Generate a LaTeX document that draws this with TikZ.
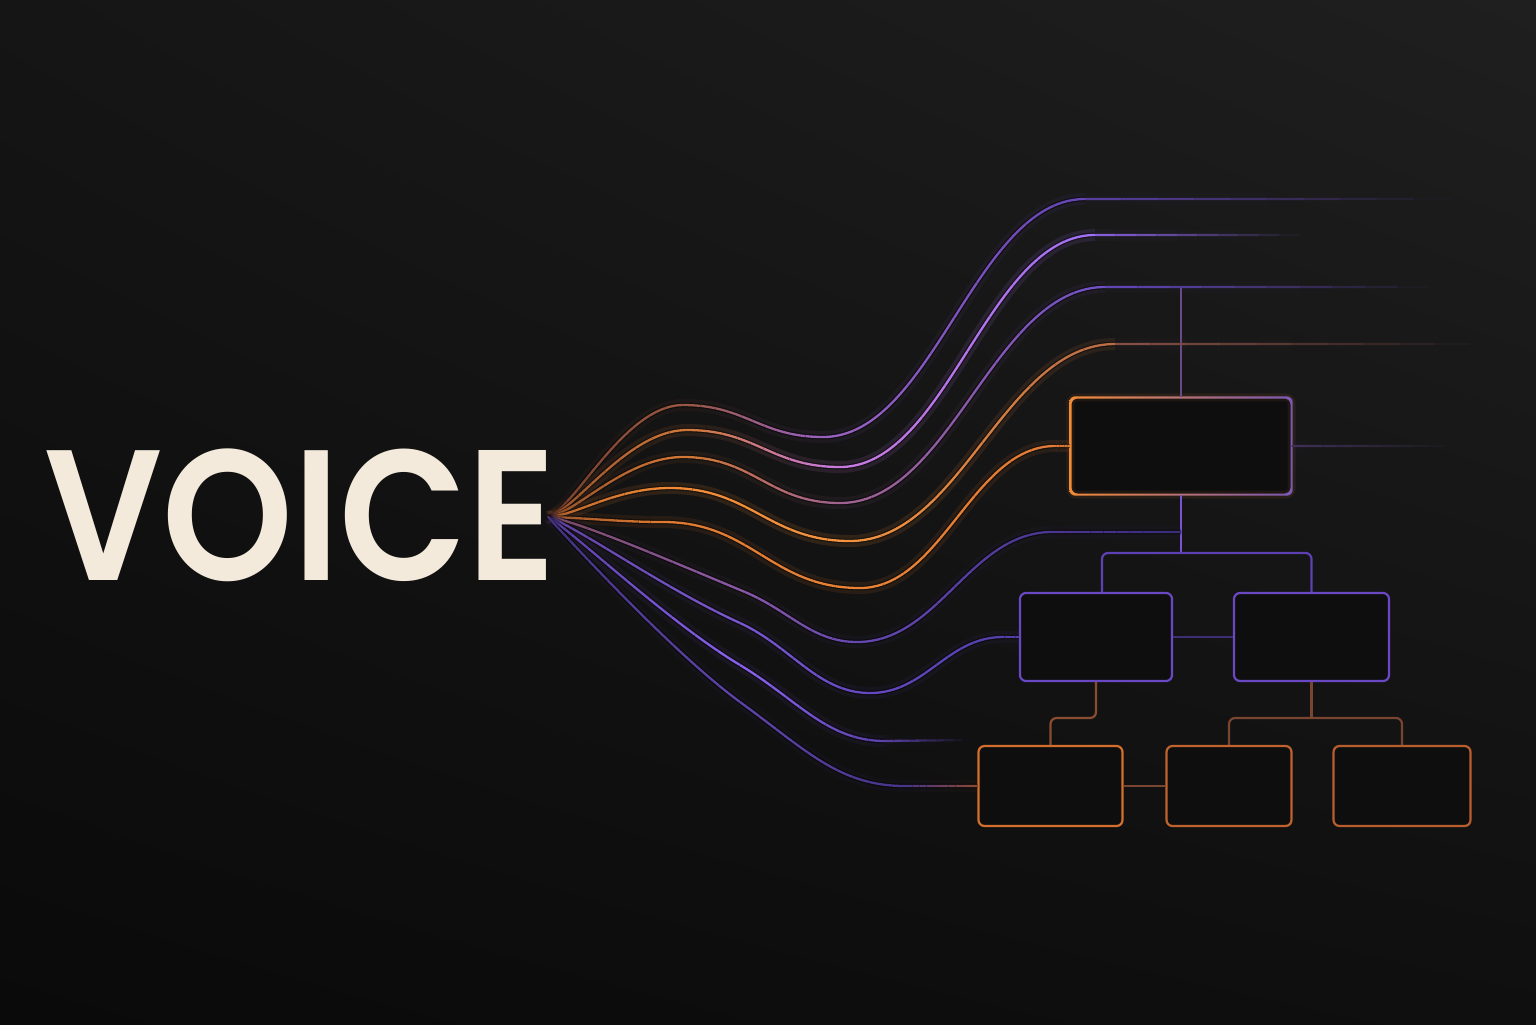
\documentclass[tikz,border=0pt]{standalone}
\usepackage{fontspec}
\newfontfamily\voicefont{Poppins SemiBold}
\usetikzlibrary{calc,shadings}

\definecolor{bgTL}{HTML}{151515}
\definecolor{bgTR}{HTML}{1F1F1F}
\definecolor{bgBL}{HTML}{0A0A0A}
\definecolor{bgBR}{HTML}{0F0F0F}
\definecolor{fadeT}{HTML}{1A1A1A}
\definecolor{fadeM}{HTML}{151515}
\definecolor{fadeL}{HTML}{0F0F0F}
\definecolor{cream}{HTML}{F3EADC}
\definecolor{boxfill}{HTML}{0E0E0F}
\definecolor{purBox}{HTML}{6A48C4}
\definecolor{bOrange}{HTML}{F28A36}
\definecolor{bRight}{HTML}{7C58B4}
\definecolor{lOne}{HTML}{D46E2C}
\definecolor{lTwo}{HTML}{C0622C}
\definecolor{lThree}{HTML}{B85E2E}
\definecolor{cTop}{HTML}{6A4A86}
\definecolor{cMid}{HTML}{7A52D4}
\definecolor{cBar}{HTML}{5C40B4}
\definecolor{cMM}{HTML}{3E2E74}
\definecolor{cBr}{HTML}{8A4C30}
\definecolor{cBrB}{HTML}{7A4530}
\definecolor{cEast}{HTML}{40305A}
% curve colours
\definecolor{kOneA}{HTML}{6E3A2A}\definecolor{kOneB}{HTML}{9A5842}\definecolor{kOneC}{HTML}{9A62C0}\definecolor{kOneD}{HTML}{6446B8}\definecolor{kOneE}{HTML}{5A40A4}
\definecolor{kTwoA}{HTML}{8A4A2C}\definecolor{kTwoB}{HTML}{D07838}\definecolor{kTwoC}{HTML}{C87AE0}\definecolor{kTwoD}{HTML}{A070F4}\definecolor{kTwoE}{HTML}{8A62E0}
\definecolor{kThrA}{HTML}{8A4A2C}\definecolor{kThrB}{HTML}{D27835}\definecolor{kThrC}{HTML}{A0628E}\definecolor{kThrD}{HTML}{7050C8}\definecolor{kThrE}{HTML}{6448BC}
\definecolor{kFouA}{HTML}{B0602C}\definecolor{kFouB}{HTML}{F08A35}\definecolor{kFouC}{HTML}{F39340}\definecolor{kFouD}{HTML}{B86C45}\definecolor{kFouE}{HTML}{8A5048}
\definecolor{kFivA}{HTML}{9A552C}\definecolor{kFivB}{HTML}{E07A30}\definecolor{kFivC}{HTML}{E88235}\definecolor{kFivD}{HTML}{E07A35}
\definecolor{kSixA}{HTML}{7A4A58}\definecolor{kSixB}{HTML}{8A58A8}\definecolor{kSixC}{HTML}{6448B0}\definecolor{kSixD}{HTML}{4A3590}\definecolor{kSixE}{HTML}{3A2C78}
\definecolor{kSevA}{HTML}{5E4098}\definecolor{kSevB}{HTML}{7A58D0}\definecolor{kSevC}{HTML}{6448C0}\definecolor{kSevD}{HTML}{5440A8}
\definecolor{kEigA}{HTML}{503890}\definecolor{kEigB}{HTML}{8A62F0}\definecolor{kEigC}{HTML}{5A40A8}
\definecolor{kNinA}{HTML}{40307A}\definecolor{kNinB}{HTML}{5E44A8}\definecolor{kNinC}{HTML}{48348A}\definecolor{kNinD}{HTML}{8A4A30}

\def\ptxy(#1,#2){\pgfpointxy{#1}{#2}}
\def\srcpt{\pgfpointanchor{src}{center}}
\def\glowop{0.09}
\def\darkop{0.45}
\def\gloww{6pt}
\def\darkw{2.4pt}
\def\corew{1.15pt}
% gradient stroked Bezier segment: colours #1 -> #2, points #3 #4 #5 #6
\newcommand\gseg[6]{%
  \foreach \k in {0,...,9}{%
    \pgfmathsetmacro\ta{\k/10}%
    \pgfmathsetmacro\tb{(\k+1)/10}%
    \pgfmathtruncatemacro\mx{95-10*\k}%
    \colorlet{segc}{#1!\mx!#2}%
    \begin{pgfscope}\pgfsetlinewidth{\gloww}\pgfsetstrokecolor{segc}\pgfsetstrokeopacity{\glowop}%
      \pgfpathcurvebetweentime{\ta}{\tb}{#3}{#4}{#5}{#6}\pgfusepath{stroke}\end{pgfscope}%
    \begin{pgfscope}\pgfsetlinewidth{\darkw}\pgfsetstrokecolor{black}\pgfsetstrokeopacity{\darkop}%
      \pgfpathcurvebetweentime{\ta}{\tb}{#3}{#4}{#5}{#6}\pgfusepath{stroke}\end{pgfscope}%
    \begin{pgfscope}\pgfsetlinewidth{\corew}\pgfsetstrokecolor{segc}%
      \pgfpathcurvebetweentime{\ta}{\tb}{#3}{#4}{#5}{#6}\pgfusepath{stroke}\end{pgfscope}%
  }}
\newcommand\gline[4]{\gseg{#1}{#2}{#3}{\pgfpointlineattime{0.3333}{#3}{#4}}{\pgfpointlineattime{0.6667}{#3}{#4}}{#4}}
% fading straight line: no dark rim
\newcommand\gfade[4]{{\def\darkop{0}\def\glowop{0.03}\gline{#1}{#2}{#3}{#4}}}

\tikzset{
  boxnode/.style={rounded corners=3pt, line width=1.1pt, fill=boxfill, inner sep=0pt},
  conn/.style={line width=1.1pt, rounded corners=3pt},
}

\begin{document}
\begin{tikzpicture}[x=0.5pt,y=-0.5pt]
\useasboundingbox (0,0) rectangle (1536,1024);
\shade[upper left=bgTL, upper right=bgTR, lower left=bgBL, lower right=bgBR] (0,0) rectangle (1536,1024);

% title
\node[anchor=base west, inner sep=0pt, text=cream,
      font=\voicefont\fontsize{93pt}{93pt}\selectfont] (voice) at (44,580) {\scalebox{0.895}[1]{VOICE}};

% coordinates
\coordinate (src) at (548,517);
\coordinate (j0) at (1181,287);
\coordinate (j1) at (1181,532);
\coordinate (bar) at (1181,553);
\coordinate (lv) at (0,718);

% boxes
\node[boxnode, draw=none, minimum width=109.5pt, minimum height=47.5pt] (b0) at (1181,446) {};
\node[boxnode, draw=purBox, minimum width=76pt, minimum height=44pt] (m1) at (1096,637) {};
\node[boxnode, draw=purBox, minimum width=77.5pt, minimum height=44pt] (m2) at (1311.5,637) {};
\node[boxnode, draw=lOne, minimum width=72pt, minimum height=40pt] (l1) at (1050.5,786) {};
\node[boxnode, draw=lTwo, minimum width=62.5pt, minimum height=40pt] (l2) at (1229,786) {};
\node[boxnode, draw=lThree, minimum width=68.5pt, minimum height=40pt] (l3) at (1402,786) {};
% gradient border of the top box
\draw[bOrange, line width=4pt, opacity=0.08, rounded corners=3pt] (b0.south west) rectangle (b0.north east);
\shade[left color=bOrange, right color=bRight, even odd rule, rounded corners=3pt]
  ([xshift=-0.55pt,yshift=-0.55pt]b0.south west) rectangle ([xshift=0.55pt,yshift=0.55pt]b0.north east)
  ([xshift=0.55pt,yshift=0.55pt]b0.south west) rectangle ([xshift=-0.55pt,yshift=-0.55pt]b0.north east);

% tree connectors
\draw[conn, draw=cTop] (j0) -- (b0.north);
\draw[conn, draw=cMid] (b0.south) -- (bar);
\draw[conn, draw=cBar] ([xshift=3pt]m1.north) |- (bar) -| (m2.north);
\draw[conn, draw=cMM] (m1.east) -- (m2.west);
\draw[conn, draw=cBr] (m1.south) |- (l1.north |- lv) -- (l1.north);
\draw[conn, draw=cBrB] (m2.south) -- (m2.south |- lv);
\draw[conn, draw=cBrB] (l2.north) |- (l3.north |- lv) -- (l3.north);
\draw[conn, draw=cBrB] (l1.east) -- (l2.west);

% line leaving the top box to the right
\gfade{cEast}{fadeT}{\pgfpointanchor{b0}{east}}{\ptxy(1445,446)}

% ---- curve 1
\def\glowop{0.07}
\gseg{kOneA}{kOneB}{\srcpt}{\ptxy(575,508)}{\ptxy(625,405)}{\ptxy(683,405)}
\gseg{kOneB}{kOneC}{\ptxy(683,405)}{\ptxy(746,405)}{\ptxy(760,437)}{\ptxy(823,437)}
\gseg{kOneC}{kOneD}{\ptxy(823,437)}{\ptxy(933,437)}{\ptxy(975,199)}{\ptxy(1085,199)}
\gfade{kOneE}{fadeT}{\ptxy(1085,199)}{\ptxy(1450,199)}
% ---- curve 2
\def\glowop{0.12}
\gseg{kTwoA}{kTwoB}{\srcpt}{\ptxy(575,511)}{\ptxy(628,430)}{\ptxy(687,430)}
\gseg{kTwoB}{kTwoC}{\ptxy(687,430)}{\ptxy(756,430)}{\ptxy(771,467)}{\ptxy(840,467)}
\gseg{kTwoC}{kTwoD}{\ptxy(840,467)}{\ptxy(947,467)}{\ptxy(988,235)}{\ptxy(1095,235)}
\gfade{kTwoE}{fadeT}{\ptxy(1095,235)}{\ptxy(1300,235)}
% ---- curve 3
\def\glowop{0.08}
\gseg{kThrA}{kThrB}{\srcpt}{\ptxy(575,514)}{\ptxy(625,457)}{\ptxy(683,457)}
\gseg{kThrB}{kThrC}{\ptxy(683,457)}{\ptxy(754,457)}{\ptxy(769,503)}{\ptxy(840,503)}
\gseg{kThrC}{kThrD}{\ptxy(840,503)}{\ptxy(951,503)}{\ptxy(994,287)}{\ptxy(1105,287)}
\gfade{kThrE}{fadeT}{\ptxy(1105,287)}{\ptxy(1430,287)}
% ---- curve 4
\def\glowop{0.13}
\gseg{kFouA}{kFouB}{\srcpt}{\ptxy(575,516)}{\ptxy(615,488)}{\ptxy(670,488)}
\gseg{kFouB}{kFouC}{\ptxy(670,488)}{\ptxy(751,488)}{\ptxy(769,541)}{\ptxy(850,541)}
\gseg{kFouC}{kFouD}{\ptxy(850,541)}{\ptxy(961,541)}{\ptxy(1004,344)}{\ptxy(1115,344)}
\gfade{kFouE}{fadeT}{\ptxy(1115,344)}{\ptxy(1470,344)}
% ---- curve 5
\def\glowop{0.10}
\gseg{kFivA}{kFivB}{\srcpt}{\ptxy(590,518)}{\ptxy(620,522)}{\ptxy(663,522)}
\gseg{kFivB}{kFivC}{\ptxy(663,522)}{\ptxy(752,522)}{\ptxy(771,588)}{\ptxy(860,588)}
\gseg{kFivC}{kFivD}{\ptxy(860,588)}{\ptxy(942,588)}{\ptxy(973,446)}{\ptxy(1055,446)}
\gline{kFivD}{kFivD}{\ptxy(1055,446)}{\pgfpointanchor{b0}{west}}
% ---- curve 6
\def\glowop{0.06}
\gseg{kSixA}{kSixB}{\srcpt}{\ptxy(575,520)}{\ptxy(666,559)}{\ptxy(745,592)}
\gseg{kSixB}{kSixC}{\ptxy(745,592)}{\ptxy(790,611)}{\ptxy(812,642)}{\ptxy(857,642)}
\gseg{kSixC}{kSixD}{\ptxy(857,642)}{\ptxy(939,642)}{\ptxy(970,532)}{\ptxy(1052,532)}
\gline{kSixD}{kSixE}{\ptxy(1052,532)}{\pgfpointanchor{j1}{center}}
% ---- curve 7
\def\glowop{0.07}
\gseg{kSevA}{kSevB}{\srcpt}{\ptxy(578,527)}{\ptxy(663,588)}{\ptxy(740,623)}
\gseg{kSevB}{kSevC}{\ptxy(740,623)}{\ptxy(792,647)}{\ptxy(818,693)}{\ptxy(870,693)}
\gseg{kSevC}{kSevD}{\ptxy(870,693)}{\ptxy(926,693)}{\ptxy(947,637)}{\ptxy(1003,637)}
\gline{kSevD}{kSevD}{\ptxy(1003,637)}{\pgfpointanchor{m1}{west}}
% ---- curve 8
\def\glowop{0.08}
\gseg{kEigA}{kEigB}{\srcpt}{\ptxy(576,534)}{\ptxy(668,622)}{\ptxy(740,665)}
\gseg{kEigB}{kEigC}{\ptxy(740,665)}{\ptxy(798,700)}{\ptxy(827,741)}{\ptxy(885,741)}
\gfade{kEigC}{fadeL}{\ptxy(885,741)}{\ptxy(970,740)}
% ---- curve 9
\def\glowop{0.05}
\gseg{kNinA}{kNinB}{\srcpt}{\ptxy(574,545)}{\ptxy(672,652)}{\ptxy(740,702)}
\gseg{kNinB}{kNinC}{\ptxy(740,702)}{\ptxy(806,750)}{\ptxy(839,786)}{\ptxy(905,786)}
\gline{kNinC}{kNinD}{\ptxy(905,786)}{\pgfpointanchor{l1}{west}}
\end{tikzpicture}
\end{document}
